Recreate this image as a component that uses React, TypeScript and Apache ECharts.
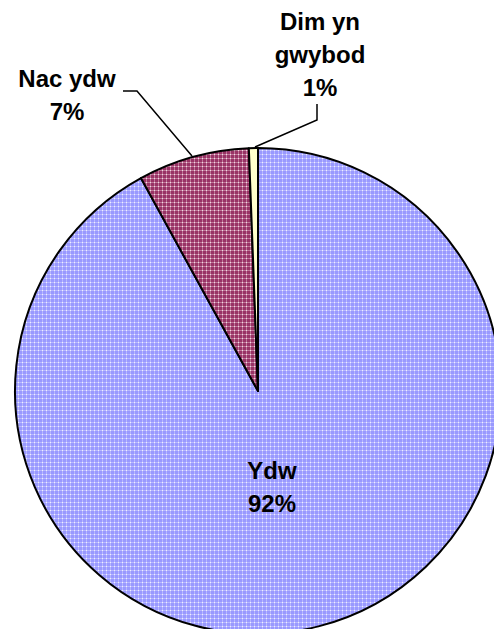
import React, { useEffect, useRef } from "react";
import * as echarts from "echarts";

const categories = ["Ydw", "Nac ydw", "Dim yn gwybod"];
const labelNames = ["Ydw", "Nac ydw", "Dim yn\ngwybod"];
const values = [92, 7.4, 0.6];

function makePattern(base: string, dot: string, line: string) {
  const c = document.createElement("canvas");
  c.width = 4;
  c.height = 4;
  const ctx = c.getContext("2d")!;
  ctx.fillStyle = base;
  ctx.fillRect(0, 0, 4, 4);
  ctx.fillStyle = line;
  ctx.fillRect(0, 2, 4, 1);
  ctx.fillRect(2, 0, 1, 4);
  ctx.fillStyle = dot;
  ctx.fillRect(2, 2, 1, 1);
  return { image: c, repeat: "repeat", imageWidth: 4, imageHeight: 4 } as any;
}

export default function App() {
  const ref = useRef<HTMLDivElement>(null);
  useEffect(() => {
    if (!ref.current) return;
    const chart = echarts.init(ref.current, undefined, { renderer: "svg" });
    const fills = [
      makePattern("#9999FF", "#EEEEFF", "#B8B8FF"),
      makePattern("#993366", "#F0D8E6", "#C07898"),
      "#FFFFCC",
    ];
    const labelPos: any[] = [
      { x: 272, y: 487 },
      { x: 67, y: 95, pts: [[192, 156], [137, 91], [123, 91]] },
      { x: 320, y: 54, pts: [[255, 147], [317, 120], [317, 104]] },
    ];
    chart.setOption({
      animation: false,
      series: [
        {
          type: "pie",
          center: [258, 391],
          radius: 243,
          startAngle: 90,
          clockwise: true,
          avoidLabelOverlap: false,
          itemStyle: { borderColor: "#000", borderWidth: 2 },
          emphasis: { disabled: true },
          label: {
            show: true,
            position: "outside",
            fontFamily: "Liberation Sans, Arial, sans-serif",
            fontWeight: "bold",
            fontSize: 24,
            lineHeight: 33,
            color: "#000",
            align: "center",
            formatter: (p: any) => labelNames[p.dataIndex] + "\n" + Math.round(p.value) + "%",
          },
          labelLine: { show: true, lineStyle: { color: "#000", width: 1.5 } },
          labelLayout: (params: any) => {
            const lp = labelPos[params.dataIndex];
            const res: any = { x: lp.x, y: lp.y, align: "center", verticalAlign: "middle" };
            if (lp.pts) res.labelLinePoints = lp.pts;
            return res;
          },
          data: categories.map((name, i) => ({
            name,
            value: values[i],
            itemStyle: { color: fills[i] },
            ...(i === 0
              ? { label: { position: "inside" }, labelLine: { show: false } }
              : {}),
          })),
        },
      ],
    });
    return () => chart.dispose();
  }, []);
  return (
    <div
      ref={ref}
      style={{ position: "absolute", left: 0, top: 0, width: 494, height: 629, background: "#fff" }}
    />
  );
}
